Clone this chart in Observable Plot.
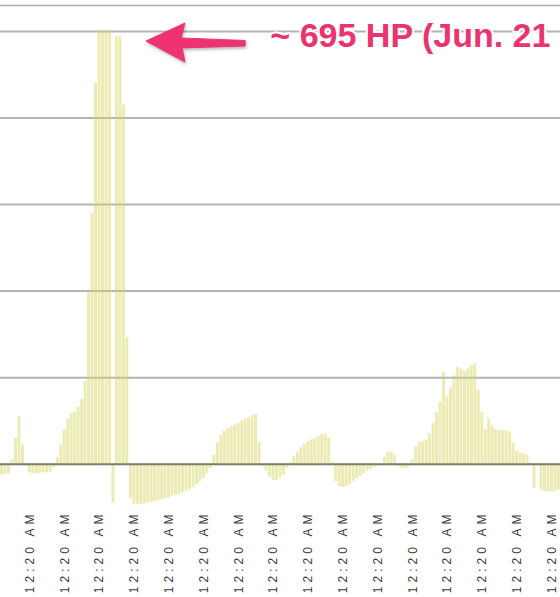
<!DOCTYPE html>
<html><head><meta charset="utf-8">
<script src="https://cdn.jsdelivr.net/npm/d3@7"></script>
<script src="https://cdn.jsdelivr.net/npm/@observablehq/plot@0.6"></script>
<style>
html,body{margin:0;padding:0;background:#fff;overflow:hidden;}
g[aria-label="annotation-arrow"], g[aria-label="annotation-text"]{filter: drop-shadow(1px 2px 1.5px rgba(0,0,0,0.28));}
g[aria-label="x-axis tick label"] text{letter-spacing:4px;}
g[aria-label="annotation-text"] text{letter-spacing:0.5px;}
</style></head><body><div id="chart"></div>
<script>
// index of the first visible bar (bars are evenly spaced, 10 per tick label)
const firstBarIndex = 2;
// bar values (units: one gridline step = 100)
const barValues = [
  -12,-12,-11,5,30,55,22,-2,-10,-11,
  -11,-11,-10,-10,-9,-4,8,22,40,52,
  59,60,66,75,96,199,290,440,500,500,
  500,500,-45,494,494,415,146,-40,-47,-47,
  -46,-46,-45,-44,-43,-42,-41,-40,-39,-37,
  -36,-35,-33,-31,-29,-27,-24,-20,-16,-11,
  -5,10,25,33,38,41,43,45,47,50,
  52,54,56,58,25,-3,-8,-15,-19,-19,
  -16,-12,-5,2,9,14,19,23,26,28,
  30,32,34,35,30,2,-20,-26,-27,-26,
  -24,-20,-17,-14,-11,-8,-6,-4,-2,0,
  8,14,14,10,-3,-5,-5,-3,5,20,
  25,26,28,35,47,60,72,106,78,88,
  102,112,110,107,110,114,116,85,60,40,
  52,44,40,39,39,39,37,24,15,13,
  12,10,2,-28,-2,-30,-32,-32,-32,-32,
  -30
];
const tickIndex = [0,10,20,30,40,50,60,70,80,90,100,110,120,130,140,150,160];
const tickLabels = ["12:20 AM","12:20 AM","12:20 AM","12:20 AM","12:20 AM","12:20 AM","12:20 AM","12:20 AM","12:20 AM","12:20 AM","12:20 AM","12:20 AM","12:20 AM","12:20 AM","12:20 AM","12:20 AM","12:20 AM"];
const gridValues = [100,200,300,400,500];
const annotationText = ["~ 695 HP (Jun. 21"];
const annotationX = [79.1];
const annotationY = [495];
// arrow outline as (bar-index, value) pairs
const arrowX = [43.5, 54.7, 53.6, 72.0, 72.0, 53.9, 54.7];
const arrowY = [488.4, 509.2, 491.9, 489.0, 482.7, 480.4, 464.1];

const bars = barValues.map((v, k) => ({i: firstBarIndex + k, v}));
const notes = annotationText.map((t, k) => ({t, x: annotationX[k], y: annotationY[k]}));

function arrowMark(index, scales) {
  const pts = arrowX.map((x, k) => [scales.x(x), scales.y(arrowY[k])]);
  const g = d3.create("svg:g").attr("aria-label", "annotation-arrow");
  g.append("path")
    .attr("d", d3.line().curve(d3.curveLinearClosed)(pts))
    .attr("fill", "#ee3470")
    .attr("stroke", "#ee3470")
    .attr("stroke-width", 1)
    .attr("stroke-linejoin", "round");
  return g.node();
}

const chart = Plot.plot({
  width: 560,
  height: 597,
  marginLeft: 0,
  marginRight: 0,
  marginTop: 5,
  marginBottom: 90,
  style: {fontFamily: "'Liberation Sans', Arial, sans-serif", background: "#fff"},
  x: {type: "linear", domain: [1.552, 162.47], axis: null},
  y: {domain: [-50, 530], axis: null},
  marks: [
    Plot.frame({anchor: "top", stroke: "#b0b0b0", strokeWidth: 1.5}),
    Plot.ruleY(gridValues, {stroke: "#b4b4b4", strokeWidth: 2}),
    Plot.rectY(bars, {x1: d => d.i - 0.42, x2: d => d.i + 0.42, y1: 0, y2: "v", fill: "#d6d660", fillOpacity: 0.48}),
    Plot.ruleY([0], {stroke: "#7d7d68", strokeWidth: 2}),
    Plot.axisX(tickIndex, {tickFormat: d => tickLabels[tickIndex.indexOf(d)], tickRotate: -90, tickSize: 0, tickPadding: 3, fontSize: 12, fill: "#3c3c3c", label: null}),
    arrowMark,
    Plot.text(notes, {x: "x", y: "y", text: "t", textAnchor: "start", fontSize: 34, fontWeight: "bold", fill: "#ec3370", stroke: "white", strokeWidth: 4, ariaLabel: "annotation-text"})
  ]
});
document.getElementById("chart").appendChild(chart);
</script>
</body></html>
